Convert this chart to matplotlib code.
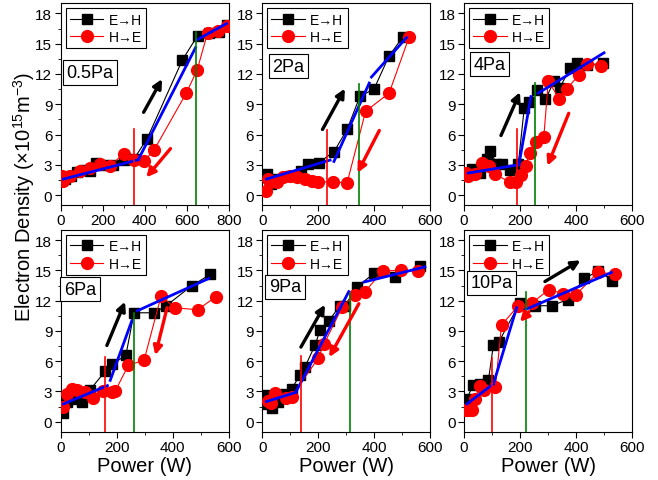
import matplotlib
matplotlib.use('Agg')
import matplotlib.pyplot as plt
from matplotlib.ticker import MultipleLocator

plt.rcParams['font.family'] = ['Liberation Sans', 'DejaVu Sans']
plt.rcParams['mathtext.fontset'] = 'custom'
plt.rcParams['mathtext.rm'] = 'Liberation Sans'
plt.rcParams['mathtext.it'] = 'Liberation Sans:italic'

# ---- data (power in W, density in 1e15 m^-3) ----
labels = ['0.5Pa', '2Pa', '4Pa', '6Pa', '9Pa', '10Pa']
xmax = [800, 600, 600, 600, 600, 600]

# E->H (black squares)
eh_w = [
    [20, 50, 80, 110, 140, 170, 200, 250, 300, 350, 412, 580, 652, 705, 752, 792],
    [18, 30, 50, 99, 140, 164, 202, 256, 303, 349, 399, 453, 503],
    [6, 27, 57, 81, 93, 116, 137, 164, 194, 215, 232, 259, 291, 322, 342, 380, 402, 440, 497],
    [10, 24, 45, 69, 75, 103, 159, 185, 233, 262, 334, 377, 469, 534],
    [7, 15, 33, 57, 81, 105, 134, 152, 188, 206, 238, 277, 295, 339, 399, 474, 563],
    [10, 33, 57, 87, 105, 125, 200, 254, 313, 370, 430, 480, 530],
]
eh_n = [
    [1.6, 1.9, 2.3, 2.5, 2.4, 3.2, 3.0, 3.0, 3.5, 3.6, 5.6, 13.4, 15.8, 16.1, 16.2, 16.9],
    [2.1, 1.1, 1.6, 1.9, 2.4, 3.1, 3.2, 4.3, 6.5, 9.8, 10.5, 13.8, 15.7],
    [2.1, 2.6, 2.2, 3.6, 4.4, 3.1, 3.1, 2.5, 3.1, 8.6, 9.2, 10.4, 9.5, 11.3, 10.65, 12.6, 13.1, 12.9, 13.05],
    [0.86, 2.0, 2.25, 2.9, 2.0, 3.1, 5.0, 5.7, 6.6, 10.8, 10.8, 11.5, 13.5, 14.6],
    [2.6, 1.75, 1.4, 2.0, 2.75, 3.25, 4.6, 5.4, 7.56, 9.05, 10.0, 11.5, 11.5, 13.4, 14.7, 14.35, 15.4],
    [2.3, 3.65, 3.7, 4.1, 7.6, 7.95, 11.8, 11.5, 11.5, 12.1, 14.2, 14.95, 14.0],
]

# H->E (red circles), in sweep order from high power to low
he_w = [
    [794, 748, 700, 650, 598, 446, 399, 350, 300, 236, 188, 140, 92, 45, 13, 5],
    [525, 453, 369, 303, 251, 200, 176, 152, 123, 99, 75, 51, 27, 19, 13],
    [491, 440, 410, 368, 340, 301, 285, 257, 236, 220, 202, 184, 164, 110, 89, 63, 39, 15, 6],
    [555, 489, 407, 359, 298, 242, 194, 183, 150, 117, 87, 57, 39, 21, 10],
    [557, 497, 430, 367, 331, 286, 220, 200, 105, 85, 45, 30, 20],
    [539, 480, 400, 355, 303, 244, 194, 134, 112, 73, 57, 39, 27, 13, 4],
]
he_n = [
    [16.8, 16.3, 16.1, 12.4, 10.1, 4.5, 3.4, 3.5, 4.1, 2.9, 3.1, 2.7, 2.4, 1.9, 1.4, 1.9],
    [15.7, 10.1, 8.3, 1.2, 1.3, 1.3, 1.4, 1.6, 1.75, 1.9, 1.75, 1.25, 1.25, 1.6, 0.43],
    [12.8, 13.0, 11.9, 10.55, 9.56, 11.3, 5.77, 5.3, 4.2, 2.9, 2.0, 1.25, 1.25, 2.1, 2.9, 3.2, 2.1, 1.9, 2.2],
    [12.4, 11.1, 11.3, 12.5, 6.1, 5.6, 3.0, 2.9, 3.0, 2.4, 2.9, 3.1, 3.2, 2.75, 1.5],
    [14.95, 15.0, 14.95, 12.9, 12.6, 11.4, 7.66, 6.3, 2.5, 2.4, 2.85, 1.9, 2.1],
    [14.6, 14.85, 12.6, 12.7, 13.1, 11.8, 11.5, 9.6, 3.4, 3.1, 3.55, 2.25, 1.2, 1.2, 1.2],
]

# blue fit segments: (w0, n0, w1, n1)
fits = [
    [(13, 1.58, 371, 3.5), (371, 3.56, 642, 14.6), (650, 15.4, 790, 17.0)],
    [(15, 1.58, 242, 3.46), (256, 3.33, 382, 11.1), (390, 11.7, 515, 15.6)],
    [(15, 2.18, 196, 3.0), (196, 3.0, 239, 9.76), (265, 10.1, 500, 14.1)],
    [(10, 1.76, 167, 3.58), (177, 4.1, 254, 10.0), (274, 11.0, 529, 14.2)],
    [(15, 2.0, 119, 2.9), (119, 2.9, 309, 12.9), (364, 13.85, 581, 15.35)],
    [(10, 1.76, 105, 3.75), (105, 3.75, 188, 11.3), (218, 11.1, 527, 14.8)],
]

# transition markers: (power, top)
red_mark = [(350, 6.5), (230, 6.4), (191, 6.5), (159, 6.46), (140, 6.5), (101, 6.3)]
green_mark = [(646, 16.2), (345, 11.0), (255, 11.1), (262, 10.8), (315, 12.8), (221, 12.9)]

# direction arrows: (w_start, n_start, w_end, n_end)
black_arrow = [(395, 8.2, 483, 11.5), (215, 6.5, 295, 10.55), (132, 5.9, 200, 10.2),
               (165, 7.56, 230, 11.9), (138, 7.4, 224, 11.6), (289, 13.9, 416, 16.0)]
red_arrow = [(523, 4.6, 408, 1.75), (418, 6.4, 340, 2.2), (374, 8.1, 298, 2.9),
             (380, 11.3, 338, 6.6), (345, 11.7, 239, 6.4), (232, 10.9, 200, 9.9)]

label_pos = [(0.035, 0.70), (0.06, 0.73), (0.055, 0.74), (0.02, 0.75), (0.04, 0.76), (0.04, 0.78)]

fig = plt.figure(figsize=(6.58, 4.81), dpi=100)
lefts = [0.0922, 0.3986, 0.7052]
bottoms = [0.5715, 0.1002]
w, h = 0.2553, 0.4194

for i in range(6):
    r, c = divmod(i, 3)
    ax = fig.add_axes([lefts[c], bottoms[r], w, h])
    ax.plot(eh_w[i], eh_n[i], '-s', color='black', lw=0.8, ms=7, label='E→H', zorder=3)
    ax.plot(he_w[i], he_n[i], '-o', color='red', lw=0.8, ms=8.5, label='H→E', zorder=4)
    for (x0, y0, x1, y1) in fits[i]:
        ax.plot([x0, x1], [y0, y1], color='#0000ff', lw=2, zorder=5)
    ax.plot([red_mark[i][0]] * 2, [-1, red_mark[i][1]], color='red', lw=1.2, zorder=6)
    ax.plot([green_mark[i][0]] * 2, [-1, green_mark[i][1]], color='green', lw=1.2, zorder=6)
    for arr, col in ((black_arrow[i], 'black'), (red_arrow[i], 'red')):
        ax.annotate('', xy=(arr[2], arr[3]), xytext=(arr[0], arr[1]),
                    arrowprops=dict(arrowstyle='-|>', color=col, lw=2.4, mutation_scale=13,
                                    shrinkA=0, shrinkB=0), zorder=7)
    ax.set_xlim(0, xmax[i])
    ax.set_ylim(-1, 19)
    ax.xaxis.set_major_locator(MultipleLocator(200))
    ax.xaxis.set_minor_locator(MultipleLocator(100))
    ax.yaxis.set_major_locator(MultipleLocator(3))
    ax.yaxis.set_minor_locator(MultipleLocator(1.5))
    ax.tick_params(which='both', direction='out', labelsize=11, pad=2)
    ax.tick_params(which='major', length=4)
    ax.tick_params(which='minor', length=2)
    leg = ax.legend(loc='upper left', bbox_to_anchor=(0.03, 0.975), borderaxespad=0,
                    fontsize=10, fancybox=False, edgecolor='black', framealpha=1,
                    handlelength=2.4, handletextpad=0.4, borderpad=0.3, labelspacing=0.25)
    leg.get_frame().set_linewidth(0.8)
    ax.text(label_pos[i][0], label_pos[i][1], labels[i], transform=ax.transAxes,
            ha='left', va='top', fontsize=13, zorder=8,
            bbox=dict(boxstyle='square,pad=0.2', fc='white', ec='black', lw=0.8))
    if r == 1:
        ax.set_xlabel('Power (W)', fontsize=14.5, labelpad=1)

fig.text(0.036, 0.59, 'Electron Density (×10$^{15}$m$^{-3}$)', rotation=90,
         ha='center', va='center', fontsize=14.5)

fig.savefig('out.png', dpi=100)
